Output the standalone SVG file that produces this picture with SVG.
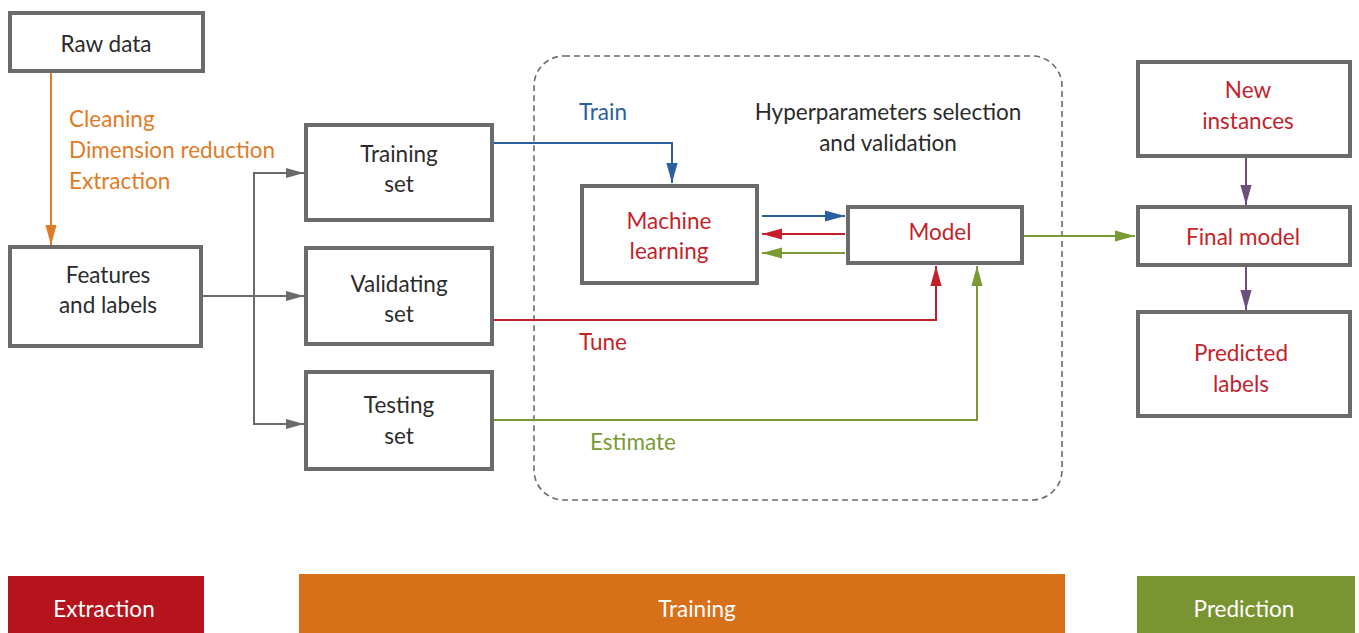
<svg xmlns="http://www.w3.org/2000/svg" width="1359" height="633" viewBox="0 0 1359 633">
<style>
text{font-family:Lato,"Noto Sans","Liberation Sans",sans-serif;font-size:22.5px;text-anchor:middle}
.box{fill:#fff;stroke:#6b6b6b;stroke-width:4}
.dark{fill:#2b2b2b}
.red{fill:#c41f2b}
.lbl{text-anchor:start}
.c{fill:none;stroke-width:2}
.band{stroke:none}
.bt{fill:#fff}
</style>
<defs>
<marker id="aGray" viewBox="0 0 10 10" refX="10" refY="5" markerWidth="18" markerHeight="18" markerUnits="userSpaceOnUse" orient="auto"><path d="M0,2.2 L10,5 L0,7.8 z" fill="#6b6b6b"/></marker>
<marker id="aOr" viewBox="0 0 10 10" refX="10" refY="5" markerWidth="20" markerHeight="20" markerUnits="userSpaceOnUse" orient="auto"><path d="M0,2.2 L10,5 L0,7.8 z" fill="#e07b27"/></marker>
<marker id="aBlue" viewBox="0 0 10 10" refX="10" refY="5" markerWidth="20" markerHeight="20" markerUnits="userSpaceOnUse" orient="auto"><path d="M0,2.2 L10,5 L0,7.8 z" fill="#2a5fa0"/></marker>
<marker id="aRed" viewBox="0 0 10 10" refX="10" refY="5" markerWidth="20" markerHeight="20" markerUnits="userSpaceOnUse" orient="auto"><path d="M0,2.2 L10,5 L0,7.8 z" fill="#c41f2b"/></marker>
<marker id="aGreen" viewBox="0 0 10 10" refX="10" refY="5" markerWidth="20" markerHeight="20" markerUnits="userSpaceOnUse" orient="auto"><path d="M0,2.2 L10,5 L0,7.8 z" fill="#7b9a34"/></marker>
<marker id="aPur" viewBox="0 0 10 10" refX="10" refY="5" markerWidth="20" markerHeight="20" markerUnits="userSpaceOnUse" orient="auto"><path d="M0,2.2 L10,5 L0,7.8 z" fill="#6e4e7e"/></marker>
</defs>
<rect width="1359" height="633" fill="#fff"/>

<g id="hyper-group">
<rect x="534" y="56" width="528" height="444" rx="30" fill="none" stroke="#6b6b6b" stroke-width="1.6" stroke-dasharray="6 4"/>
<text class="dark" x="888" y="120">Hyperparameters selection</text>
<text class="dark" x="888" y="151">and validation</text>
</g>

<g id="connectors">
<path class="c" d="M51,73 V245" stroke="#e07b27" marker-end="url(#aOr)"/>
<path class="c" d="M203,296 H304" stroke="#6b6b6b" marker-end="url(#aGray)"/>
<path class="c" d="M254,296 V173 H304" stroke="#6b6b6b" marker-end="url(#aGray)"/>
<path class="c" d="M254,296 V424 H304" stroke="#6b6b6b" marker-end="url(#aGray)"/>
<path class="c" d="M494,143 H672 V183" stroke="#2a5fa0" marker-end="url(#aBlue)"/>
<path class="c" d="M762,216 H845" stroke="#2a5fa0" marker-end="url(#aBlue)"/>
<path class="c" d="M845,234 H762" stroke="#c41f2b" marker-end="url(#aRed)"/>
<path class="c" d="M845,253 H762" stroke="#7b9a34" marker-end="url(#aGreen)"/>
<path class="c" d="M494,320 H936 V266" stroke="#c41f2b" marker-end="url(#aRed)"/>
<path class="c" d="M494,420 H977 V266" stroke="#7b9a34" marker-end="url(#aGreen)"/>
<path class="c" d="M1024,236 H1135" stroke="#7b9a34" marker-end="url(#aGreen)"/>
<path class="c" d="M1246,158 V205" stroke="#6e4e7e" marker-end="url(#aPur)"/>
<path class="c" d="M1246,267 V310" stroke="#6e4e7e" marker-end="url(#aPur)"/>
<text class="lbl" x="69" y="127" fill="#e07b27">Cleaning</text>
<text class="lbl" x="69" y="158" fill="#e07b27">Dimension reduction</text>
<text class="lbl" x="69" y="189" fill="#e07b27">Extraction</text>
<text class="lbl" x="579" y="120" fill="#2a5fa0">Train</text>
<text class="lbl" x="579" y="350" fill="#c41f2b">Tune</text>
<text class="lbl" x="590" y="450" fill="#7b9a34">Estimate</text>
</g>

<g id="raw-data"><rect class="box" x="10" y="13" width="193" height="58"/><text class="dark" x="106" y="52">Raw data</text></g>
<g id="features"><rect class="box" x="10" y="247" width="191" height="99"/><text class="dark" x="108" y="283">Features</text><text class="dark" x="108" y="313">and labels</text></g>
<g id="training-set"><rect class="box" x="306" y="125" width="186" height="95"/><text class="dark" x="399" y="162">Training</text><text class="dark" x="399" y="192">set</text></g>
<g id="validating-set"><rect class="box" x="306" y="248" width="186" height="96"/><text class="dark" x="399" y="292">Validating</text><text class="dark" x="399" y="322">set</text></g>
<g id="testing-set"><rect class="box" x="306" y="372" width="186" height="97"/><text class="dark" x="399" y="413">Testing</text><text class="dark" x="399" y="444">set</text></g>
<g id="machine-learning"><rect class="box" x="582" y="186" width="175" height="97"/><text class="red" x="669" y="229">Machine</text><text class="red" x="669" y="259">learning</text></g>
<g id="model"><rect class="box" x="848" y="207" width="174" height="56"/><text class="red" x="940" y="240">Model</text></g>
<g id="new-instances"><rect class="box" x="1138" y="62" width="212" height="94"/><text class="red" x="1248" y="98">New</text><text class="red" x="1248" y="129">instances</text></g>
<g id="final-model"><rect class="box" x="1138" y="207" width="212" height="58"/><text class="red" x="1243" y="245">Final model</text></g>
<g id="predicted-labels"><rect class="box" x="1138" y="312" width="212" height="104"/><text class="red" x="1241" y="361">Predicted</text><text class="red" x="1241" y="392">labels</text></g>

<g id="band-extraction"><rect class="band" x="8" y="576" width="196" height="57" fill="#b5141c"/><text class="bt" x="104" y="617">Extraction</text></g>
<g id="band-training"><rect class="band" x="299" y="574" width="766" height="59" fill="#d8701a"/><text class="bt" x="697" y="617">Training</text></g>
<g id="band-prediction"><rect class="band" x="1137" y="576" width="218" height="57" fill="#7a9432"/><text class="bt" x="1244" y="617">Prediction</text></g>
</svg>
